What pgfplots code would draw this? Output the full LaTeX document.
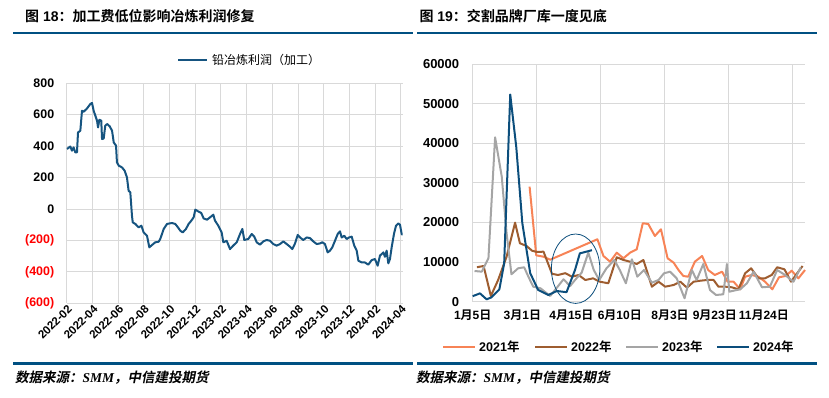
\documentclass[border=0pt]{standalone}
\usepackage{pgfplots}
\pgfplotsset{compat=1.18}
\usepackage{fontspec}
\setmainfont{Liberation Sans}
\newfontfamily\cjk{Noto Sans CJK SC}[BoldFont={* Bold}]
\newfontfamily\cjkit{Noto Sans CJK SC}[BoldFont={* Bold},FakeSlant=0.2,BoldFeatures={FakeSlant=0.2}]
\newfontfamily\tnr{Liberation Serif}
\definecolor{titleblue}{RGB}{0,80,130}
\definecolor{lineblue}{RGB}{22,84,128}
\definecolor{c21}{RGB}{247,131,86}
\definecolor{c22}{RGB}{158,93,48}
\definecolor{c23}{RGB}{165,165,165}
\definecolor{c24}{RGB}{12,78,124}
\definecolor{gridgray}{RGB}{217,217,217}
\newcommand\md[2]{#1{\cjk 月}#2{\cjk 日}}
\pgfplotstableread{
m v
0.02 382
0.28 398
0.41 371
0.54 392
0.67 360
0.80 360
0.88 487
1.06 498
1.19 625
1.32 619
1.58 640
1.84 668
1.97 675
2.10 625
2.23 594
2.36 562
2.44 519
2.54 568
2.69 562
2.75 445
2.88 449
3.00 530
3.14 541
3.35 526
3.53 498
3.66 424
3.84 403
3.91 297
4.05 276
4.30 265
4.51 244
4.69 201
4.82 116
4.95 106
5.08 -43
5.14 -85
5.34 -95
5.60 -117
5.81 -106
5.99 -149
6.25 -170
6.43 -244
6.64 -229
6.89 -212
7.16 -208
7.28 -191
7.55 -127
7.81 -95
8.19 -89
8.45 -95
8.66 -117
8.84 -138
9.03 -149
9.28 -127
9.49 -95
9.70 -74
9.88 -53
10.01 -4
10.27 -17
10.47 -25
10.66 -60
10.92 -68
11.25 -47
11.41 -36
11.54 -74
11.80 -106
12.06 -149
12.19 -212
12.45 -202
12.71 -255
12.96 -233
13.23 -212
13.49 -159
13.67 -127
13.82 -197
14.13 -191
14.40 -159
14.60 -176
14.79 -212
15.04 -227
15.30 -206
15.56 -197
15.82 -202
16.08 -223
16.34 -233
16.60 -223
16.86 -206
17.12 -223
17.38 -240
17.56 -255
17.77 -219
17.98 -165
18.16 -181
18.41 -197
18.68 -181
18.93 -185
19.19 -206
19.46 -223
19.71 -219
19.89 -212
20.10 -223
20.31 -276
20.49 -265
20.67 -244
20.88 -202
21.09 -159
21.27 -142
21.40 -181
21.60 -170
21.79 -191
21.97 -181
22.18 -176
22.38 -233
22.57 -265
22.70 -329
22.96 -340
23.21 -340
23.47 -354
23.74 -325
23.99 -318
24.20 -361
24.38 -297
24.64 -276
24.77 -304
24.90 -265
25.03 -346
25.16 -318
25.29 -244
25.47 -159
25.63 -106
25.81 -92
25.94 -100
26.07 -159
26.15 -164
}\profit
\pgfplotstableread{
w v
9.4 29040
10.5 11700
11.7 11360
12.8 10600
20.6 15760
21.6 11540
22.7 10100
23.8 12370
24.9 10960
26.0 12370
27.1 13230
28.1 19800
29.0 19620
30.1 16590
31.1 18280
32.2 10960
33.2 9850
34.0 8000
34.8 6490
35.6 6310
36.7 10100
37.9 11540
38.9 8000
40.0 6740
41.2 7580
42.1 5050
43.1 5050
44.2 3130
45.0 6310
46.1 6740
47.2 6310
48.3 5050
49.5 3130
50.6 6160
51.7 6490
52.7 7830
53.8 5900
54.9 8000
}\yA
\pgfplotstableread{
w v
0.7 8700
1.8 9010
3.0 1440
4.2 5480
5.6 11360
7.0 19950
7.8 14750
8.9 14060
9.8 12880
10.6 12550
11.7 12630
13.1 7050
14.1 6740
15.3 7200
16.4 6310
17.5 6740
18.6 5480
19.9 5900
21.0 5050
22.4 4650
23.8 11210
24.9 10530
26.0 10100
27.1 9520
28.2 10530
29.6 3790
30.7 5050
31.8 3790
33.2 4220
34.3 5050
35.4 3540
36.5 5050
37.6 5300
38.7 5480
39.8 5480
40.6 3790
41.7 3790
42.8 3640
43.9 3130
45.0 7170
46.0 8430
47.2 5900
48.3 5900
49.4 6740
50.3 8690
51.5 8180
52.6 5050
53.6 7170
54.5 9010
}\yB
\pgfplotstableread{
w v
0.3 7750
1.5 7580
2.6 10960
3.7 41510
4.8 31560
5.6 17270
6.4 6920
7.5 8430
8.5 8690
9.2 6310
10.0 3790
11.2 3380
12.8 1440
13.9 3540
15.0 5650
16.1 3960
16.9 5480
18.0 7330
19.1 12370
20.0 8000
20.9 5480
22.1 8430
23.4 10530
24.3 8000
25.3 4650
26.3 10710
27.2 6310
28.3 8000
29.6 4800
30.7 5480
31.6 7170
32.6 7580
33.7 5900
35.0 860
36.2 8000
37.0 5480
38.1 9520
39.2 2950
40.2 1690
41.4 1870
42.0 9520
42.4 2530
43.6 2950
44.2 3130
45.3 4650
46.4 7580
47.8 3640
49.1 3790
50.3 8000
51.6 6740
53.0 5050
54.2 8690
}\yC
\pgfplotstableread{
w v
0 1400
1.2 2100
2.3 600
3.1 1100
4.4 3100
5.2 9700
6.2 52300
7.2 39000
8.2 19800
9.5 7200
10.8 3000
12.5 1700
13.9 2700
15.5 2400
16.9 8000
17.7 12200
19.7 13000
}\yD
\begin{document}
\begin{tikzpicture}[x=1pt,y=1pt]
\useasboundingbox (0,0) rectangle (829,397);
% titles and rules
\node[anchor=base west,inner sep=0,font=\fontsize{14}{14}\selectfont\bfseries] at (25,375) {{\cjk 图} 18{\cjk ：加工费低位影响冶炼利润修复}};
\node[anchor=base west,inner sep=0,font=\fontsize{14}{14}\selectfont\bfseries] at (419.3,375) {{\cjk 图} 19{\cjk ：交割品牌厂库一度见底}};
\draw[titleblue,line width=2.6pt] (13.3,364) -- (413,364);
\draw[titleblue,line width=2.6pt] (417,364) -- (816.7,364);
\draw[titleblue,line width=2.6pt] (13.3,33.5) -- (413,33.5);
\draw[titleblue,line width=2.6pt] (417,33.5) -- (816.7,33.5);
\node[anchor=west,inner sep=0,font=\fontsize{13.5}{13.5}\selectfont\bfseries] at (15,19) {{\cjkit 数据来源：}{\tnr\itshape SMM}{\cjkit ，中信建投期货}};
\node[anchor=west,inner sep=0,font=\fontsize{13.5}{13.5}\selectfont\bfseries] at (416,19) {{\cjkit 数据来源：}{\tnr\itshape SMM}{\cjkit ，中信建投期货}};
% left legend
\draw[lineblue,line width=2.2pt] (178.3,337) -- (206.7,337);
\node[anchor=west,inner sep=0,font=\fontsize{12}{12}\selectfont\cjk] at (212,337) {铅冶炼利润（加工）};
% right legend
\foreach \c/\xa/\t in {c21/443/2021,c22/535/2022,c23/626/2023,c24/717/2024}{
  \draw[\c,line width=2.2pt] (\xa,50.3) -- (\xa+32,50.3);
  \node[anchor=west,inner sep=0,font=\fontsize{12.5}{12.5}\selectfont\bfseries] at (\xa+36,50.3) {\t{\cjk 年}};
}
% left axis
\begin{axis}[
  at={(66.7pt,93.7pt)}, anchor=south west, scale only axis,
  width=336pt, height=220pt,
  xmin=0, xmax=26.15, ymin=-600, ymax=800,
  axis line style={draw=none}, major tick length=0pt,
  grid=major, major grid style={draw=gridgray,line width=0.9pt},
  ytick={-600,-400,-200,0,200,400,600,800},
  yticklabels={{\color{red}(600)},{\color{red}(400)},{\color{red}(200)},0,200,400,600,800},
  yticklabel style={font=\fontsize{12.4}{12.4}\selectfont\bfseries, xshift=-9pt},
  xtick={0,2,...,26},
  xticklabels={2022-02,2022-04,2022-06,2022-08,2022-10,2022-12,2023-02,2023-04,2023-06,2023-08,2023-10,2023-12,2024-02,2024-04},
  xticklabel style={font=\fontsize{11.5}{11.5}\selectfont\bfseries, rotate=45, anchor=east, xshift=3pt, yshift=-5pt},
]
\addplot[lineblue, line width=2pt, line join=round] table[x=m,y=v]{\profit};
\end{axis}
% right axis
\begin{axis}[
  at={(472.7pt,95.3pt)}, anchor=south west, scale only axis,
  width=332.3pt, height=237.7pt,
  xmin=0, xmax=54.9, ymin=0, ymax=60000, clip=false,
  scaled y ticks=false, scaled x ticks=false,
  axis line style={draw=none}, major tick length=0pt, minor tick length=0pt,
  ymajorgrids=true, xmajorgrids=false, xminorgrids=true,
  major grid style={draw=gridgray,line width=0.9pt},
  minor grid style={draw=gridgray,line width=0.9pt},
  ytick={0,10000,20000,30000,40000,50000,60000},
  yticklabels={0,10000,20000,30000,40000,50000,60000},
  yticklabel style={font=\fontsize{13}{13}\selectfont\bfseries, xshift=-10pt},
  xtick={0,8.2,16.3,24.3,32.6,40,48.1},
  xticklabels={\md{1}{5},\md{3}{1},\md{4}{15},\md{6}{10},\md{8}{3},\md{9}{23},\md{11}{24}},
  minor xtick={0,10.56,21.04,31.7,42.3,52.8},
  xticklabel style={font=\fontsize{12}{12}\selectfont\bfseries, yshift=-5pt},
]
\addplot[c21, line width=2pt, line join=round] table[x=w,y=v]{\yA};
\addplot[c22, line width=2pt, line join=round] table[x=w,y=v]{\yB};
\addplot[c23, line width=2pt, line join=round] table[x=w,y=v]{\yC};
\addplot[c24, line width=2pt, line join=round] table[x=w,y=v]{\yD};
\draw[c24, line width=0.8pt] (axis cs:17.0,8330) ellipse [x radius=24.2pt, y radius=34.7pt];
\end{axis}
\end{tikzpicture}
\end{document}
